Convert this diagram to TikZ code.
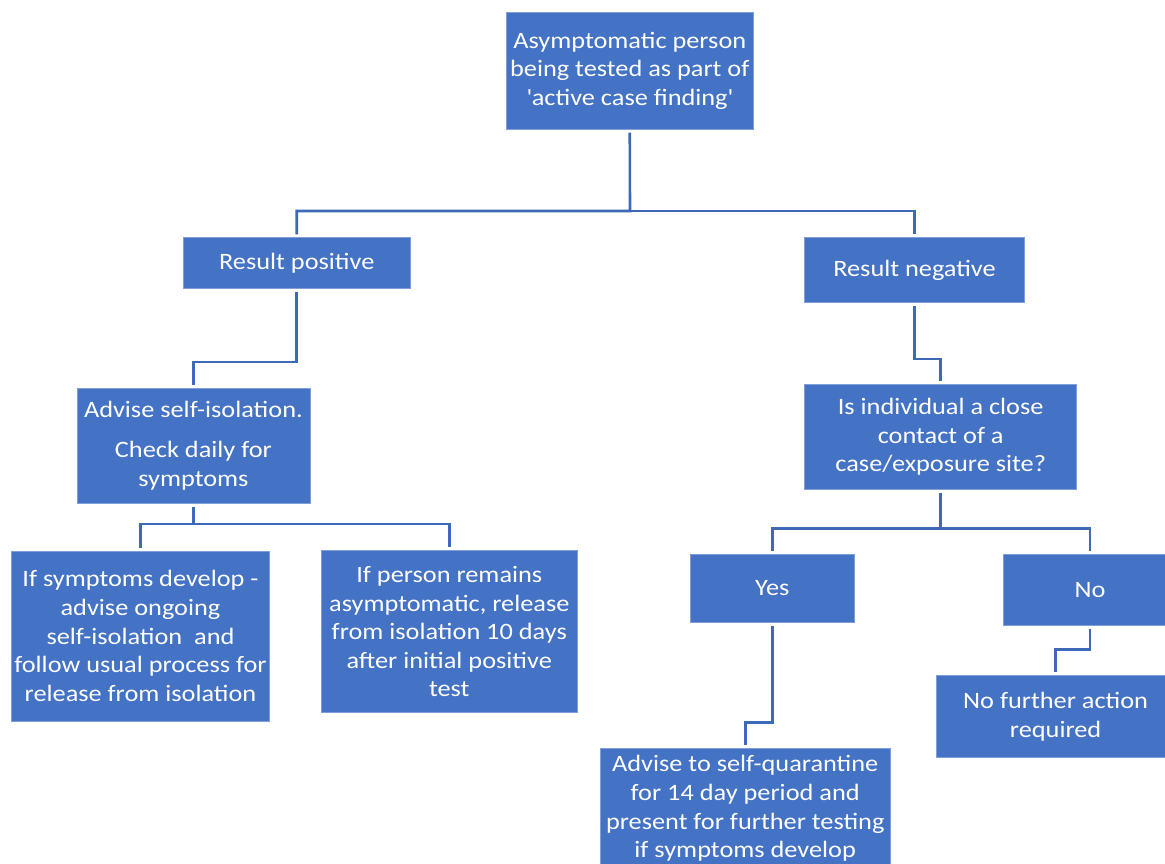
\documentclass[tikz,border=0pt]{standalone}
\usepackage{fontspec}
\setmainfont[FakeStretch=1.12]{Carlito}
\definecolor{boxBlue}{HTML}{4472C4}
\definecolor{boxEdge}{HTML}{7F9FD8}
\definecolor{linkBlue}{HTML}{3E68B8}
\begin{document}
\begin{tikzpicture}[x=1pt, y=-1pt, every node/.style={rectangle}, text centered,
	box/.style={fill=boxBlue, draw=boxEdge, line width=.8pt, text=white, align=center, inner sep=0pt, font=\fontsize{23.5}{28.6}\selectfont},
	link/.style={draw=linkBlue, line width=2.6pt, shorten >=3pt}]
	\useasboundingbox (0,0) rectangle (1165,864);
	\node[box, minimum width=247.5pt, minimum height=117.3pt] (startBox) at (629.75, 70.65) {Asymptomatic person\\being tested as part of\\\textquotesingle active case finding\textquotesingle};
	\node[box, minimum width=226.5pt, minimum height=50.6pt] (posBox) at (296.75, 263) {Result positive};
	\node[box, minimum width=219.6pt, minimum height=64.6pt] (negBox) at (914.5, 270) {Result negative};
	\node[box, minimum width=233pt, minimum height=115pt] (isolateBox) at (193.4, 445.8) {Advise self-isolation.\\[11pt]Check daily for\\symptoms};
	\node[box, minimum width=258pt, minimum height=170pt] (symptomBox) at (140.5, 636) {If symptoms develop -\\advise ongoing\\self-isolation\ \ and\\follow usual process for\\release from isolation};
	\node[box, minimum width=255.3pt, minimum height=162pt] (releaseBox) at (449.3, 631.7) {If person remains\\asymptomatic, release\\from isolation 10 days\\after initial positive\\test};
	\node[box, minimum width=272pt, minimum height=105pt] (contactBox) at (940.7, 436.8) {Is individual a close\\contact of a\\case/exposure site?};
	\node[box, minimum width=164.5pt, minimum height=68.4pt] (yesBox) at (772.25, 588.5) {Yes};
	\node[box, minimum width=174pt, minimum height=71pt] (noBox) at (1090, 589.8) {No};
	\node[box, minimum width=239pt, minimum height=81.6pt] (nothingBox) at (1055.6, 716.5) {No further action\\required};
	\node[box, minimum width=290.4pt, minimum height=124pt, text depth=0pt] (quarantineBox) at (745.2, 810.3) {};
	\node[text=white, align=center, font=\fontsize{23.5}{28.6}\selectfont] (quarantineText) at (745.2, 808.5) {Advise to self-quarantine\\for 14 day period and\\present for further testing\\if symptoms develop};
	% elbows
	\coordinate (splitTop) at (630, 211);
	\coordinate (splitIsolate) at (193.4, 524);
	\coordinate (splitContact) at (940.7, 528.3);
	\draw[link, shorten <=3pt] (startBox.south) -- (splitTop) -| (posBox.north);
	\draw[link] (splitTop) -| (negBox.north);
	\draw[link, shorten <=3pt] (posBox.south) -- ++(0, 73.4) -| (isolateBox.north);
	\draw[link, shorten <=3pt] (negBox.south) -- ++(0, 56.4) -| (contactBox.north);
	\draw[link, shorten <=3pt] (isolateBox.south) -- (splitIsolate) -| (symptomBox.north);
	\draw[link] (splitIsolate) -| (releaseBox.north);
	\draw[link, shorten <=3pt] (contactBox.south) -- (splitContact) -| (yesBox.north);
	\draw[link] (splitContact) -| (noBox.north);
	\draw[link, shorten <=3pt] (yesBox.south) -- ++(0, 99.6) -| (quarantineBox.north);
	\draw[link, shorten <=3pt] (noBox.south) -- ++(0, 23.7) -| (nothingBox.north);
\end{tikzpicture}
\end{document}
